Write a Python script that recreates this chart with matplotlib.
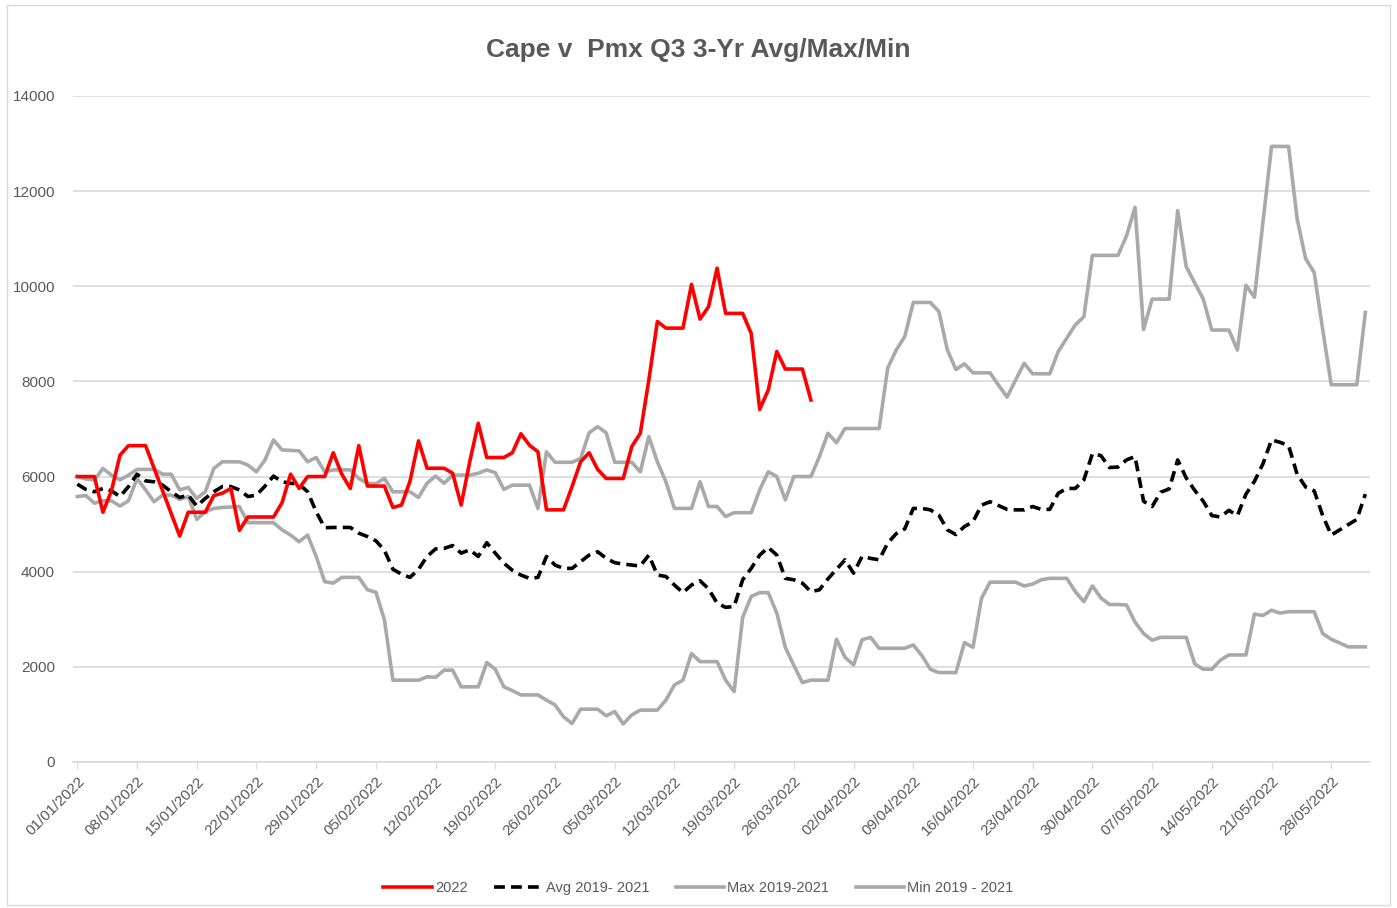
import matplotlib
matplotlib.use("Agg")
import matplotlib.pyplot as plt
import matplotlib.dates as mdates
from matplotlib.patches import Rectangle
import pandas as pd

# daily dates, 01/01/2022 .. 01/06/2022
dates = pd.date_range("2022-01-01", periods=152, freq="D")

# 2022 (ends 28/03)
cape_2022 = [6000, 6000, 6000, 5250, 5700, 6450, 6650,
             6650, 6650, 6175, 5700, 5225, 4750, 5250,
             5250, 5250, 5600, 5650, 5750, 4870, 5150,
             5150, 5150, 5150, 5450, 6050, 5750, 6000,
             6000, 6000, 6500, 6050, 5750, 6650, 5800,
             5800, 5800, 5350, 5400, 5900, 6750, 6175,
             6175, 6175, 6070, 5400, 6310, 7120, 6400,
             6400, 6400, 6500, 6900, 6660, 6520, 5300,
             5300, 5300, 5790, 6310, 6500, 6150, 5960,
             5960, 5960, 6630, 6910, 8030, 9260, 9120,
             9120, 9120, 10040, 9310, 9570, 10380, 9430,
             9430, 9430, 9010, 7410, 7820, 8630, 8260,
             8260, 8260, 7610]

avg_19_21 = [5840, 5730, 5680, 5750, 5700, 5580, 5790,
             6050, 5910, 5890, 5820, 5680, 5560, 5610,
             5380, 5540, 5680, 5790, 5790, 5720, 5580,
             5610, 5800, 6010, 5890, 5860, 5840, 5680,
             5260, 4925, 4930, 4930, 4930, 4810, 4740,
             4650, 4450, 4050, 3950, 3880, 4050, 4320,
             4480, 4490, 4550, 4390, 4460, 4320, 4610,
             4390, 4180, 4030, 3930, 3860, 3880, 4320,
             4140, 4070, 4070, 4210, 4350, 4420, 4280,
             4190, 4160, 4140, 4120, 4350, 3930, 3900,
             3720, 3560, 3720, 3810, 3640, 3340, 3250,
             3270, 3830, 4070, 4350, 4510, 4350, 3860,
             3830, 3760, 3580, 3620, 3850, 4050, 4250,
             3970, 4320, 4280, 4250, 4600, 4800, 4900,
             5330, 5330, 5300, 5190, 4880, 4780, 4950,
             5050, 5400, 5470, 5390, 5310, 5300, 5300,
             5370, 5310, 5310, 5650, 5750, 5750, 5930,
             6480, 6440, 6190, 6200, 6350, 6420, 5480,
             5370, 5670, 5740, 6350, 5970, 5710, 5480,
             5180, 5150, 5290, 5180, 5630, 5900, 6270,
             6770, 6720, 6650, 6050, 5780, 5700, 5180,
             4770, 4880, 4990, 5100, 5630]

max_19_21 = [6000, 5950, 5930, 6170, 6030, 5930, 6030,
             6150, 6150, 6150, 6050, 6050, 5720, 5770,
             5540, 5680, 6170, 6310, 6310, 6310, 6240,
             6100, 6350, 6770, 6560, 6550, 6540, 6310,
             6400, 6100, 6140, 6140, 6140, 5960, 5860,
             5850, 5960, 5680, 5680, 5680, 5560, 5860,
             6010, 5860, 6030, 6030, 6030, 6070, 6140,
             6080, 5730, 5820, 5820, 5820, 5330, 6520,
             6300, 6300, 6300, 6380, 6920, 7050, 6920,
             6300, 6300, 6300, 6100, 6840, 6310, 5890,
             5330, 5330, 5330, 5890, 5370, 5370, 5160,
             5240, 5240, 5240, 5720, 6100, 6000, 5510,
             6000, 6000, 6000, 6420, 6910, 6710, 7010,
             7010, 7010, 7010, 7010, 8280, 8660, 8940,
             9660, 9660, 9660, 9470, 8660, 8250, 8370,
             8180, 8180, 8180, 7920, 7670, 8030, 8380,
             8160, 8160, 8160, 8630, 8910, 9190, 9360,
             10650, 10650, 10650, 10650, 11060, 11660, 9090,
             9730, 9730, 9730, 11590, 10410, 10070, 9730,
             9080, 9080, 9080, 8660, 10020, 9770, 11350,
             12940, 12940, 12940, 11420, 10580, 10290, 9090,
             7930, 7930, 7930, 7930, 9450]

min_19_21 = [5580, 5600, 5440, 5490, 5490, 5380, 5490,
             5960, 5720, 5470, 5610, 5610, 5520, 5580,
             5100, 5260, 5330, 5350, 5360, 5370, 5030,
             5030, 5030, 5030, 4880, 4770, 4630, 4770,
             4320, 3790, 3760, 3880, 3880, 3880, 3620,
             3570, 2990, 1720, 1720, 1720, 1720, 1790,
             1780, 1930, 1930, 1580, 1580, 1580, 2090,
             1950, 1580, 1500, 1410, 1410, 1410, 1300,
             1200, 950, 810, 1110, 1110, 1110, 970,
             1060, 800, 990, 1090, 1090, 1090, 1300,
             1620, 1720, 2280, 2110, 2110, 2110, 1720,
             1480, 3040, 3480, 3560, 3560, 3130, 2410,
             2030, 1670, 1720, 1720, 1720, 2580, 2200,
             2040, 2570, 2620, 2390, 2390, 2390, 2390,
             2460, 2240, 1950, 1880, 1880, 1880, 2510,
             2410, 3440, 3780, 3780, 3780, 3780, 3700,
             3740, 3830, 3860, 3860, 3860, 3580, 3370,
             3700, 3450, 3310, 3310, 3300, 2940, 2700,
             2560, 2620, 2620, 2620, 2620, 2060, 1950,
             1950, 2140, 2250, 2250, 2250, 3110, 3080,
             3190, 3130, 3160, 3160, 3160, 3160, 2700,
             2580, 2500, 2420, 2420, 2420]

labels = ["2022", "Avg 2019- 2021", "Max 2019-2021", "Min 2019 - 2021"]
title = "Cape v  Pmx Q3 3-Yr Avg/Max/Min"

FONT = ["Liberation Sans Narrow", "Liberation Sans", "DejaVu Sans"]
TXT = "#595959"
GREY = "#A9A9A9"

plt.rcParams["font.family"] = FONT

fig = plt.figure(figsize=(13.97, 9.08), dpi=100)
ax = fig.add_axes([0.0523, 0.1608, 0.9281, 0.7335])

lw = 2.6
ax.plot(dates[:len(cape_2022)], cape_2022, color="#FF0000", lw=lw, label=labels[0], zorder=5)
ax.plot(dates, avg_19_21, color="black", lw=lw, ls=(0, (3, 1.7)), label=labels[1], zorder=4)
ax.plot(dates, max_19_21, color=GREY, lw=lw, label=labels[2], zorder=3)
ax.plot(dates, min_19_21, color=GREY, lw=lw, label=labels[3], zorder=3)

ax.set_ylim(0, 14000)
ax.set_yticks(range(0, 14001, 2000))
ax.set_xlim(dates[0] - pd.Timedelta(hours=12), dates[-1] + pd.Timedelta(hours=12))
ax.set_xticks(dates[::7][:22])
ax.xaxis.set_major_formatter(mdates.DateFormatter("%d/%m/%Y"))

ax.grid(axis="y", color="#D9D9D9", lw=1.2)
ax.set_axisbelow(True)
for s in ["top", "right", "left"]:
    ax.spines[s].set_visible(False)
ax.spines["bottom"].set_color("#D9D9D9")
ax.spines["bottom"].set_linewidth(1.2)

ax.tick_params(axis="y", length=0, labelsize=11, labelcolor=TXT, pad=13)
ax.tick_params(axis="x", length=5, color="#D9D9D9", labelsize=11, labelcolor=TXT)
for t in ax.get_xticklabels():
    t.set_rotation(45)
    t.set_ha("right")
    t.set_rotation_mode("anchor")

fig.text(0.5, 0.945, title, ha="center", va="center", fontsize=19,
         fontweight="bold", color=TXT)

fig.legend(loc="center", bbox_to_anchor=(0.5, 0.022), ncol=4, frameon=False,
           fontsize=10.5, labelcolor=TXT, handlelength=3.3, columnspacing=1.8,
           handletextpad=0.25)

fig.patches.append(Rectangle((0.005, 0.003), 0.99, 0.992, transform=fig.transFigure,
                             fill=False, edgecolor="#D9D9D9", lw=1))

fig.savefig("out.png", dpi=100)
